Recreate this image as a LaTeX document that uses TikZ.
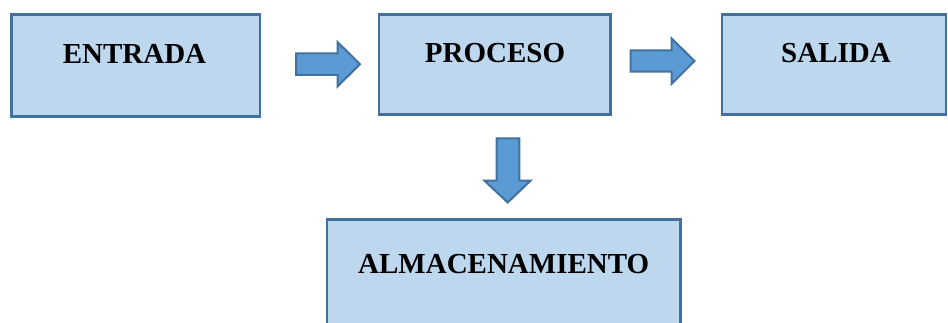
\documentclass[tikz,border=0pt]{standalone}
\usepackage{fontspec}
\setmainfont{Liberation Serif}
\definecolor{boxfill}{HTML}{BDD7EE}
\definecolor{boxline}{HTML}{41719C}
\definecolor{arrowfill}{HTML}{5B9BD5}
\tikzset{
  stagebox/.style={draw=boxline, fill=boxfill, line width=2.5pt, rectangle, inner sep=0pt, outer sep=0pt},
  blockarrow/.style={draw=boxline, fill=arrowfill, line width=2pt, line join=miter},
  stagetext/.style={anchor=base, inner sep=0pt, font=\fontsize{29}{34}\selectfont\bfseries}
}
\begin{document}
\begin{tikzpicture}[x=1pt, y=-1pt]
  \useasboundingbox (0,0) rectangle (948,323);
  \clip (0,0) rectangle (948,323);

  % stage boxes
  \node[stagebox, minimum width=248.5pt, minimum height=102pt] (entrada) at (135.75,65.5) {};
  \node[stagebox, minimum width=231.5pt, minimum height=100pt] (proceso) at (494.75,64.5) {};
  \node[stagebox, minimum width=224pt, minimum height=100pt] (salida) at (834,64.5) {};
  \node[stagebox, minimum width=353.5pt, minimum height=125.5pt] (almac) at (503.75,282.25) {};

  % labels, set high in each box
  \node[stagetext] (tentrada) at (134.5,64) {ENTRADA};
  \node[stagetext] (tproceso) at (495,63) {PROCESO};
  \node[stagetext] (tsalida) at (836,63) {SALIDA};
  \node[stagetext] (talmac) at (503.7,273) {ALMACENAMIENTO};

  % block arrows between the stages
  \draw[blockarrow] (296,53.5) -- (337.5,53.5) -- (337.5,42) -- (360,64.2)
    -- (337.5,86.5) -- (337.5,75) -- (296,75) -- cycle;
  \draw[blockarrow] (630.5,50.3) -- (671.7,50.3) -- (671.7,38.5) -- (694.5,61)
    -- (671.7,83.7) -- (671.7,71.7) -- (630.5,71.7) -- cycle;
  \draw[blockarrow] (496.7,138.5) -- (519.3,138.5) -- (519.3,180.7) -- (530.5,180.7)
    -- (507.7,202.5) -- (484.5,180.7) -- (496.7,180.7) -- cycle;
\end{tikzpicture}
\end{document}
